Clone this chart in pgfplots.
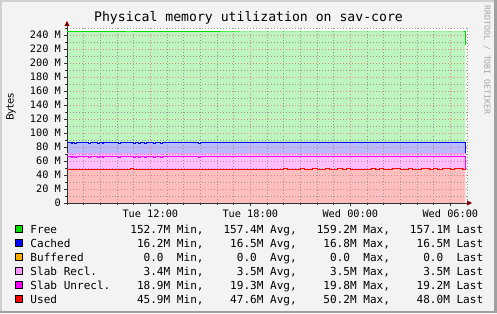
\documentclass[border=0pt]{standalone}
\usepackage{fontspec}
\setmainfont{DejaVu Sans}
\setmonofont{DejaVu Sans Mono}
\newfontfamily\mono{DejaVu Sans Mono}
\usepackage{pgfplots}
\pgfplotsset{compat=1.18}
\usepackage{pgfplotstable}
\usetikzlibrary{arrows.meta}

\definecolor{bg}{RGB}{243,243,243}
\definecolor{bordL}{RGB}{208,208,208}
\definecolor{bordD}{RGB}{160,160,160}
\definecolor{freeA}{RGB}{190,245,190}
\definecolor{freeL}{RGB}{0,220,0}
\definecolor{cachA}{RGB}{186,186,255}
\definecolor{cachL}{RGB}{0,0,255}
\definecolor{slabrA}{RGB}{255,190,255}
\definecolor{slabrL}{RGB}{255,150,255}
\definecolor{slabuA}{RGB}{255,190,255}
\definecolor{slabuL}{RGB}{255,0,255}
\definecolor{usedA}{RGB}{255,190,190}
\definecolor{usedL}{RGB}{255,0,0}
\definecolor{bufL}{RGB}{255,170,0}
\definecolor{mgrid}{RGB}{225,135,135}
\definecolor{ngrid}{RGB}{150,150,150}
\definecolor{arrowc}{RGB}{128,0,0}

\pgfplotstableread{
x used slabun slabre buf cached free
7.0 47.4 19.5 3.5 0 16.5 157.4
7.24 47.4 18.1 3.5 0 16.5 158.8
7.34 47.4 19.5 3.5 0 16.5 157.4
7.44 47.4 18.1 3.5 0 16.5 158.8
7.54 47.4 19.5 3.5 0 16.5 157.4
8.28 47.4 18.1 3.5 0 16.5 158.8
8.38 47.4 19.5 3.5 0 16.5 157.4
8.82 47.4 18.1 3.5 0 16.5 158.8
8.92 47.4 19.5 3.5 0 16.5 157.4
9.10 47.4 18.1 3.5 0 16.5 158.8
9.20 47.4 19.5 3.5 0 16.5 157.4
10.08 47.4 18.1 3.5 0 16.5 158.8
10.18 47.4 19.5 3.5 0 16.5 157.4
10.80 48.8 18.1 3.5 0 16.5 157.4
10.98 47.4 18.1 3.5 0 16.5 158.8
11.08 47.4 19.5 3.5 0 16.5 157.4
11.28 47.4 18.1 3.5 0 16.5 158.8
11.38 47.4 19.5 3.5 0 16.5 157.4
11.64 47.4 18.1 3.5 0 16.5 158.8
11.74 47.4 19.5 3.5 0 16.5 157.4
12.18 47.4 18.1 3.5 0 16.5 158.8
12.28 47.4 19.5 3.5 0 16.5 157.4
12.60 47.4 18.1 3.5 0 16.5 158.8
12.70 47.4 19.5 3.5 0 16.5 157.4
14.88 47.4 18.1 3.5 0 16.5 158.8
14.98 47.4 19.5 3.5 0 16.5 157.4
17.40 47.4 19.5 4.3 0 15.7 157.4
17.60 47.4 19.5 3.5 0 16.5 157.4
19.75 47.4 19.5 3.5 0 16.5 157.4
20.0 48.8 18.1 3.5 0 16.5 157.4
20.25 47.4 19.5 3.5 0 16.5 157.4
21.0 48.8 18.1 3.5 0 16.5 157.4
21.25 47.4 19.5 3.5 0 16.5 157.4
21.5 47.4 19.5 4.3 0 15.7 157.4
21.75 48.8 18.1 3.5 0 16.5 157.4
22.0 47.4 19.5 3.5 0 16.5 157.4
22.25 47.4 19.5 4.3 0 15.7 157.4
22.5 48.8 18.1 3.5 0 16.5 157.4
22.75 47.4 19.5 3.5 0 16.5 157.4
23.25 48.8 18.1 3.5 0 16.5 157.4
23.5 47.4 19.5 3.5 0 16.5 157.4
23.75 48.8 18.1 3.5 0 16.5 157.4
24.0 47.4 19.5 4.3 0 15.7 157.4
24.25 47.4 19.5 3.5 0 16.5 157.4
25.0 47.4 19.5 4.3 0 15.7 157.4
25.25 48.8 18.1 3.5 0 16.5 157.4
25.5 47.4 19.5 3.5 0 16.5 157.4
25.75 48.8 18.1 3.5 0 16.5 157.4
26.0 47.4 19.5 3.5 0 16.5 157.4
26.25 47.4 19.5 4.3 0 15.7 157.4
26.5 48.8 18.1 3.5 0 16.5 157.4
27.0 47.4 19.5 4.3 0 15.7 157.4
27.25 47.4 19.5 3.5 0 16.5 157.4
27.5 48.8 18.1 3.5 0 16.5 157.4
27.75 47.4 19.5 3.5 0 16.5 157.4
28.0 47.4 19.5 4.3 0 15.7 157.4
28.25 48.8 18.1 3.5 0 16.5 157.4
28.75 47.4 19.5 3.5 0 16.5 157.4
29.0 48.8 18.1 3.5 0 16.5 157.4
29.25 47.4 19.5 4.3 0 15.7 157.4
29.5 48.8 18.1 3.5 0 16.5 157.4
30.0 47.4 19.5 4.3 0 15.7 157.4
30.25 48.8 18.1 3.5 0 16.5 157.4
30.75 47.4 19.5 3.5 0 16.5 157.4
30.9 48.0 0 23.0 0 0 155.0
}\mem

\newcommand{\legfont}{\mono\fontsize{11.1}{13}\selectfont}

\begin{document}
\begin{tikzpicture}[x=1bp,y=1bp]
\useasboundingbox (0,0) rectangle (497,313);
\fill[bg] (0,0) rectangle (497,313);
\fill[bordL] (0,0) rectangle (2,313);
\fill[bordL] (0,311) rectangle (497,313);
\fill[bordD] (494,0) rectangle (497,313);
\fill[bordD] (0,0) rectangle (497,2);
\fill[white] (67,110) rectangle (467,285);

% filled areas
\begin{axis}[at={(67bp,110bp)}, anchor=south west, scale only axis,
  width=400bp, height=175bp, xmin=7, xmax=31, ymin=0, ymax=250,
  hide axis, stack plots=y, const plot, clip=true]
\addplot[draw=none, fill=usedA] table[x=x,y=used]{\mem} \closedcycle;
\addplot[draw=none, fill=slabuA] table[x=x,y=slabun]{\mem} \closedcycle;
\addplot[draw=none, fill=slabrA] table[x=x,y=slabre]{\mem} \closedcycle;
\addplot[draw=none, fill=bufL!40] table[x=x,y=buf]{\mem} \closedcycle;
\addplot[draw=none, fill=cachA] table[x=x,y=cached]{\mem} \closedcycle;
\addplot[draw=none, fill=freeA] table[x=x,y=free]{\mem} \closedcycle;
\end{axis}

% grid, axes and lines
\begin{axis}[at={(67bp,110bp)}, anchor=south west, scale only axis,
  width=400bp, height=175bp, xmin=7, xmax=31, ymin=0, ymax=250,
  stack plots=y, const plot, no markers,
  axis x line=bottom, axis y line=left,
  axis line style={draw=black!80, line width=0.8bp},
  x axis line style={-{Triangle[length=5bp,width=5bp,color=arrowc]}, shorten >=-5bp},
  y axis line style={-{Triangle[length=5bp,width=5bp,color=arrowc]}, shorten >=-7bp},
  xtick={12,18,24,30}, minor xtick={7,...,31},
  xticklabels={Tue 12:00, Tue 18:00, Wed 00:00, Wed 06:00},
  ytick={0,20,...,240}, minor ytick={10,30,...,250},
  yticklabels={0, 20 M, 40 M, 60 M, 80 M, 100 M, 120 M, 140 M, 160 M, 180 M, 200 M, 220 M, 240 M},
  tick align=outside, major tick length=3bp, minor tick length=2bp,
  tick style={draw=black!80, line width=0.6bp},
  grid=both,
  major grid style={draw=mgrid, dash pattern=on 1bp off 2bp, line width=0.7bp},
  minor grid style={draw=ngrid, dash pattern=on 1bp off 2bp, line width=0.6bp},
  xticklabel style={font=\mono\fontsize{10.3}{12}\selectfont, anchor=north, inner sep=0pt, yshift=-4bp},
  yticklabel style={font=\mono\fontsize{10.3}{12}\selectfont, anchor=east, inner sep=0pt, xshift=-3bp},
  every axis plot/.append style={line width=1bp}]
\addplot[usedL] table[x=x,y=used]{\mem};
\addplot[slabuL] table[x=x,y=slabun]{\mem};
\addplot[slabrL] table[x=x,y=slabre]{\mem};
\addplot[draw=none] table[x=x,y=buf]{\mem};
\addplot[cachL] table[x=x,y=cached]{\mem};
\addplot[freeL] table[x=x,y=free]{\mem};
\end{axis}

% title, labels, watermark
\node[font=\mono\fontsize{13.2}{15}\selectfont, inner sep=0pt] at (248.5,295) {Physical memory utilization on sav-core};
\node[rotate=90, font=\fontsize{10}{12}\selectfont, inner sep=0pt] at (11,206) {Bytes};
\node[rotate=-90, font=\mono\fontsize{8.3}{10}\selectfont, text=black!35, inner sep=0pt] at (487,253) {RRDTOOL / TOBI OETIKER};

% legend
\foreach \c/\yy in {freeL/84, cachL/70, bufL/56, slabrL/42, slabuL/28, usedL/14}{
  \node[draw=black, fill=\c, minimum size=7.5bp, inner sep=0pt, line width=0.6bp] at (19,\yy) {};
}
\node[anchor=base west, inner sep=0pt, font=\legfont] at (30.3,80) {Free~~~~~~~~~~~152.7M~Min,~~~157.4M~Avg,~~~159.2M~Max,~~~157.1M~Last};
\node[anchor=base west, inner sep=0pt, font=\legfont] at (30.3,66) {Cached~~~~~~~~~~16.2M~Min,~~~~16.5M~Avg,~~~~16.8M~Max,~~~~16.5M~Last};
\node[anchor=base west, inner sep=0pt, font=\legfont] at (30.3,52) {Buffered~~~~~~~~~0.0~~Min,~~~~~0.0~~Avg,~~~~~0.0~~Max,~~~~~0.0~~Last};
\node[anchor=base west, inner sep=0pt, font=\legfont] at (30.3,38) {Slab~Recl.~~~~~~~3.4M~Min,~~~~~3.5M~Avg,~~~~~3.5M~Max,~~~~~3.5M~Last};
\node[anchor=base west, inner sep=0pt, font=\legfont] at (30.3,24) {Slab~Unrecl.~~~~18.9M~Min,~~~~19.3M~Avg,~~~~19.8M~Max,~~~~19.2M~Last};
\node[anchor=base west, inner sep=0pt, font=\legfont] at (30.3,10) {Used~~~~~~~~~~~~45.9M~Min,~~~~47.6M~Avg,~~~~50.2M~Max,~~~~48.0M~Last};
\end{tikzpicture}
\end{document}
